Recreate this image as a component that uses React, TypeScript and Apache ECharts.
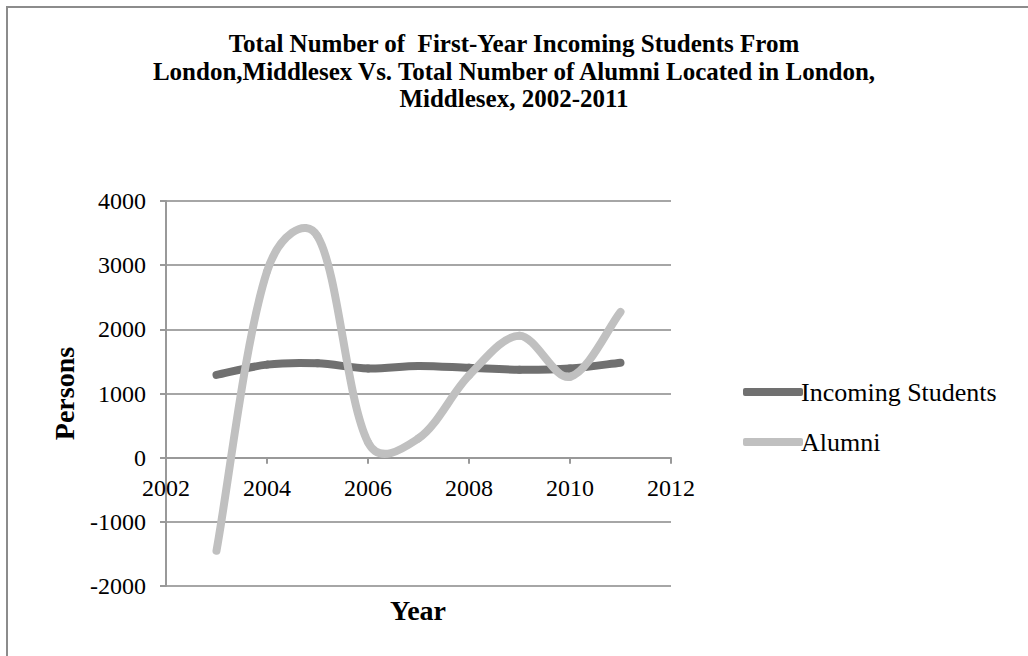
import React, { useEffect, useRef } from "react";
import * as echarts from "echarts";

const titleLines = [
  "Total Number of  First-Year Incoming Students From",
  "London,Middlesex Vs. Total Number of Alumni Located in London,",
  "Middlesex, 2002-2011",
];
const years = [2003, 2004, 2005, 2006, 2007, 2008, 2009, 2010, 2011];
const incomingStudents = [1290, 1450, 1470, 1390, 1430, 1400, 1370, 1390, 1480];
const alumni = [-1450, 2900, 3450, 240, 300, 1280, 1900, 1260, 2270];
const seriesNames = ["Incoming Students", "Alumni"];
const seriesColors = ["#707070", "#c0c0c0"];
const xTicks = { min: 2002, max: 2012, interval: 2 };
const yTicks = { min: -2000, max: 4000, interval: 1000 };

// Smoothed line drawn segment by segment through the axes' scales
function smoothSeries(name: string, values: number[], color: string, z: number) {
  const data = years.map((y, i) => [y, values[i]]);
  const alpha = 0.5;
  return {
    name,
    type: "custom",
    z,
    itemStyle: { color },
    encode: { x: 0, y: 1 },
    data,
    renderItem: (params: any, api: any) => {
      const i = params.dataIndex;
      if (i >= data.length - 1) return null;
      const p = (k: number) => {
        const kk = Math.max(0, Math.min(data.length - 1, k));
        return api.coord(data[kk]);
      };
      const dist = (a: number[], b: number[]) => Math.hypot(a[0] - b[0], a[1] - b[1]);
      const p0 = p(i - 1);
      const p1 = p(i);
      const p2 = p(i + 1);
      const p3 = p(i + 2);
      const dA = dist(p0, p1);
      const dB = dist(p1, p2);
      const dC = dist(p2, p3);
      const f1 = dA + dB > 0 ? (1 - alpha) + alpha * (2 * dB) / (dA + dB) : 1;
      const f2 = dB + dC > 0 ? (1 - alpha) + alpha * (2 * dB) / (dB + dC) : 1;
      return {
        type: "bezierCurve",
        shape: {
          x1: p1[0],
          y1: p1[1],
          x2: p2[0],
          y2: p2[1],
          cpx1: p1[0] + ((p2[0] - p0[0]) / 6) * f1,
          cpy1: p1[1] + ((p2[1] - p0[1]) / 6) * f1,
          cpx2: p2[0] - ((p3[0] - p1[0]) / 6) * f2,
          cpy2: p2[1] - ((p3[1] - p1[1]) / 6) * f2,
        },
        style: { stroke: color, lineWidth: 8, fill: "none", lineCap: "round" },
      };
    },
  };
}

export default function App() {
  const ref = useRef<HTMLDivElement>(null);
  useEffect(() => {
    if (!ref.current) return;
    const chart = echarts.init(ref.current, undefined, { renderer: "svg" });
    const serif = "'Liberation Serif', 'Times New Roman', serif";
    chart.setOption({
      animation: false,
      backgroundColor: "#ffffff",
      title: {
        text: titleLines.join("\n"),
        left: "center",
        top: 30,
        padding: 0,
        textStyle: {
          fontFamily: serif,
          fontWeight: "bold",
          fontSize: 25,
          lineHeight: 27.5,
          color: "#000",
          align: "center",
        },
      },
      legend: {
        orient: "vertical",
        left: 738,
        top: 374,
        itemWidth: 60,
        itemHeight: 8,
        itemGap: 24,
        icon: "roundRect",
        textStyle: { fontFamily: serif, fontSize: 26, color: "#000", padding: [0, 0, 0, -7] },
        data: seriesNames.map((n, i) => ({ name: n, itemStyle: { color: seriesColors[i] } })),
      },
      grid: { left: 166, right: 357, top: 201, bottom: 70, containLabel: false },
      xAxis: {
        type: "value",
        min: xTicks.min,
        max: xTicks.max,
        interval: xTicks.interval,
        axisLine: { onZero: true, lineStyle: { color: "#999", width: 2 } },
        axisTick: { show: true, inside: false, length: 6, lineStyle: { color: "#999", width: 2 } },
        axisLabel: {
          fontFamily: serif,
          fontSize: 24,
          color: "#000",
          margin: -110,
          formatter: (v: number) => String(v),
        },
        splitLine: { show: false },
      },
      yAxis: {
        type: "value",
        min: yTicks.min,
        max: yTicks.max,
        interval: yTicks.interval,
        name: "Persons",
        nameLocation: "middle",
        nameGap: 88,
        nameTextStyle: { fontFamily: serif, fontSize: 28, fontWeight: "bold", color: "#000" },
        axisLine: { show: true, lineStyle: { color: "#999", width: 2 } },
        axisTick: { show: true, length: 6, lineStyle: { color: "#999", width: 2 } },
        axisLabel: {
          fontFamily: serif,
          fontSize: 24,
          color: "#000",
          margin: 20,
          formatter: (v: number) => String(v),
        },
        splitLine: { show: true, lineStyle: { color: "#a6a6a6", width: 2 } },
      },
      graphic: [
        {
          type: "rect",
          shape: { x: 7, y: 7, width: 1100, height: 700 },
          style: { fill: "none", stroke: "#8c8c8c", lineWidth: 2 },
          silent: true,
          z: -1,
        },
        {
          type: "text",
          x: 418,
          y: 610,
          style: {
            text: "Year",
            fontFamily: serif,
            fontSize: 28,
            fontWeight: "bold",
            fill: "#000",
            align: "center",
            verticalAlign: "middle",
          },
        },
      ],
      series: [
        smoothSeries(seriesNames[0], incomingStudents, seriesColors[0], 3),
        smoothSeries(seriesNames[1], alumni, seriesColors[1], 4),
      ],
    });
    return () => chart.dispose();
  }, []);
  return (
    <div
      ref={ref}
      style={{ position: "fixed", left: 0, top: 0, width: 1028, height: 656 }}
    />
  );
}
